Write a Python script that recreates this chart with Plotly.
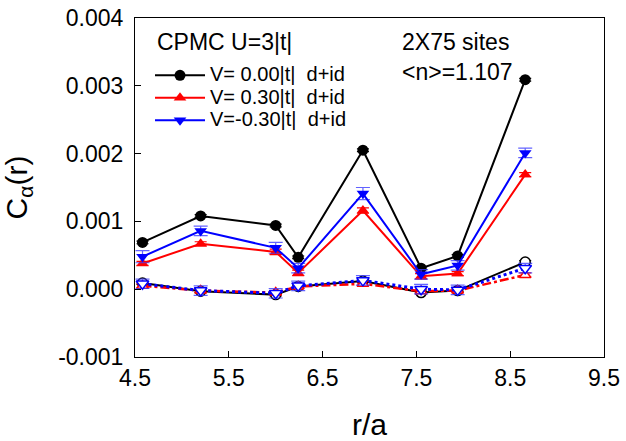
import plotly.graph_objects as go

r = [4.58, 5.20, 6.00, 6.24, 6.93, 7.55, 7.94, 8.66]

# filled (legend) series
c_v000 = [0.00069, 0.00108, 0.00094, 0.00047, 0.00205, 0.00031, 0.00049, 0.00309]
e_v000 = [0.00002, 0.00002, 0.00002, 0.00002, 0.00002, 0.00002, 0.00002, 0.00002]
c_v030 = [0.00038, 0.00067, 0.00055, 0.00024, 0.00116, 0.00019, 0.00023, 0.00169]
e_v030 = [0.00003, 0.00003, 0.00004, 0.00004, 0.00004, 0.00004, 0.00003, 0.00003]
c_vm030 = [0.00048, 0.00086, 0.00061, 0.00031, 0.00141, 0.00022, 0.00035, 0.00201]
e_vm030 = [0.00009, 0.00007, 0.00008, 0.00007, 0.00009, 0.00007, 0.00007, 0.00007]

# open (unlabelled) series
o_v000 = [0.00009, -0.00003, -0.00008, 0.00004, 0.00012, -0.00005, -0.00002, 0.00040]
oe_v000 = [0.00002] * 8
o_v030 = [0.00005, -0.00002, -0.00005, 0.00004, 0.00008, -0.00003, -0.00002, 0.00021]
oe_v030 = [0.00003] * 8
o_vm030 = [0.00008, -0.00002, -0.00006, 0.00005, 0.00013, 0.00000, -0.00001, 0.00031]
oe_vm030 = [0.00007] * 8

labels = ["V=\u00a00.00|t|\u00a0\u00a0d+id", "V=\u00a00.30|t|\u00a0\u00a0d+id", "V=-0.30|t|\u00a0\u00a0d+id"]

x_ticks = [4.5, 5.5, 6.5, 7.5, 8.5, 9.5]
x_ticklabels = ["4.5", "5.5", "6.5", "7.5", "8.5", "9.5"]
y_ticks = [-0.001, 0.0, 0.001, 0.002, 0.003, 0.004]
y_ticklabels = ["-0.001", "0.000", "0.001", "0.002", "0.003", "0.004"]

FONT = "Liberation Sans, Arial, Helvetica, sans-serif"
LEG_TXT = '<span style="font-size:20px">{}</span>'

fig = go.Figure()

# open series first (drawn underneath)
fig.add_trace(go.Scatter(x=r, y=o_v000, mode="lines+markers", showlegend=False,
    line=dict(color="black", width=2),
    marker=dict(symbol="circle", size=10, color="white", line=dict(color="black", width=1.5)),
    error_y=dict(type="data", array=oe_v000, color="black", thickness=1.2, width=6)))
fig.add_trace(go.Scatter(x=r, y=o_v030, mode="lines+markers", showlegend=False,
    line=dict(color="red", width=2.5, dash="dashdot"),
    marker=dict(symbol="triangle-up", size=10, color="white", line=dict(color="red", width=1.5)),
    error_y=dict(type="data", array=oe_v030, color="red", thickness=1.2, width=6)))
fig.add_trace(go.Scatter(x=r, y=o_vm030, mode="lines+markers", showlegend=False,
    line=dict(color="blue", width=3, dash="dot"),
    marker=dict(symbol="triangle-down", size=11, color="white", line=dict(color="blue", width=1.5)),
    error_y=dict(type="data", array=oe_vm030, color="rgba(60,60,255,0.8)", thickness=1.2, width=7)))

# filled series
fig.add_trace(go.Scatter(x=r, y=c_v000, mode="lines+markers", name=LEG_TXT.format(labels[0]),
    line=dict(color="black", width=2),
    marker=dict(symbol="circle", size=11, color="black"),
    error_y=dict(type="data", array=e_v000, color="black", thickness=1.2, width=6)))
fig.add_trace(go.Scatter(x=r, y=c_v030, mode="lines+markers", name=LEG_TXT.format(labels[1]),
    line=dict(color="red", width=2),
    marker=dict(symbol="triangle-up", size=11, color="red"),
    error_y=dict(type="data", array=e_v030, color="red", thickness=1.2, width=6)))
fig.add_trace(go.Scatter(x=r, y=c_vm030, mode="lines+markers", name=LEG_TXT.format(labels[2]),
    line=dict(color="blue", width=2),
    marker=dict(symbol="triangle-down", size=11, color="blue"),
    error_y=dict(type="data", array=e_vm030, color="rgba(60,60,255,0.8)", thickness=1.2, width=7)))

fig.add_annotation(x=0.0426, y=0.929, xref="paper", yref="paper", xanchor="left", yanchor="middle",
    text="CPMC U=3|t|", showarrow=False, font=dict(family=FONT, size=23, color="black"))
fig.add_annotation(x=0.565, y=0.929, xref="paper", yref="paper", xanchor="left", yanchor="middle",
    text="2X75 sites", showarrow=False, font=dict(family=FONT, size=23, color="black"))
fig.add_annotation(x=0.565, y=0.840, xref="paper", yref="paper", xanchor="left", yanchor="middle",
    text="&lt;n&gt;=1.107", showarrow=False, font=dict(family=FONT, size=23, color="black"))

fig.update_layout(
    template="none",
    width=626, height=441,
    margin=dict(l=135, r=22, t=18, b=84),
    paper_bgcolor="white", plot_bgcolor="white",
    font=dict(family=FONT, color="black"),
    legend=dict(
        x=0.032, y=0.879, xanchor="left", yanchor="top",
        bgcolor="rgba(0,0,0,0)",
        font=dict(family=FONT, size=15),
        tracegroupgap=0,
        itemwidth=50,
    ),
    xaxis=dict(
        range=[4.5, 9.5], tickvals=x_ticks, ticktext=x_ticklabels,
        showline=True, linecolor="black", linewidth=1, mirror=True,
        ticks="inside", ticklen=6, tickcolor="black",
        showgrid=False, zeroline=False, automargin=False,
        tickfont=dict(family=FONT, size=23),
        title=dict(text="r/a", font=dict(family=FONT, size=30), standoff=24),
    ),
    yaxis=dict(
        range=[-0.001, 0.004], tickvals=y_ticks, ticktext=y_ticklabels,
        showline=True, linecolor="black", linewidth=1, mirror=True,
        ticks="inside", ticklen=6, tickcolor="black",
        showgrid=False, zeroline=False, automargin=False,
        ticklabelstandoff=6,
        tickfont=dict(family=FONT, size=23),
        title=dict(text="C<sub>α</sub>(r)", font=dict(family=FONT, size=30), standoff=22),
    ),
)

fig.write_html("out.html", config={"displayModeBar": False},
               post_script="document.body.style.margin='0';")
